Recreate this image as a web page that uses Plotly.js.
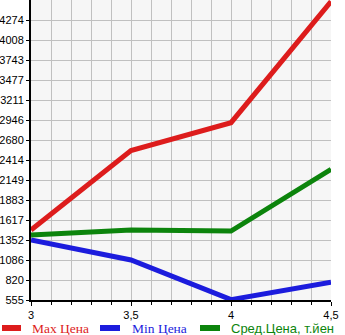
<!DOCTYPE html>
<html>
<head>
<meta charset="utf-8">
<script src="https://cdn.plot.ly/plotly-3.0.1.min.js"></script>
<style>html,body{margin:0;padding:0;background:#fff;}#chart{width:345px;height:335px;}</style>
</head>
<body>
<div id="chart"></div>
<script>
const xValues = [3, 3.5, 4, 4.5];
const maxPrice = [1485, 2540, 2910, 4520];
const minPrice = [1352, 1086, 560, 790];
const avgPrice = [1418, 1485, 1471, 2291];
const seriesNames = ['Max Цена', 'Min Цена', 'Сред.Цена, т.йен'];
const yTickVals = [555, 820, 1086, 1352, 1617, 1883, 2149, 2414, 2680, 2946, 3211, 3477, 3743, 4008, 4274];
const xTickVals = [3, 3.5, 4, 4.5];
const xTickText = ['3', '3,5', '4', '4,5'];

const colors = ['#dd1c1c', '#1c1cdd', '#0c840c'];
const series = [maxPrice, minPrice, avgPrice];
const traces = series.map((s, i) => ({
  x: xValues, y: s, name: seriesNames[i], type: 'scatter', mode: 'lines',
  line: {color: colors[i], width: 5},
}));

// custom legend (pixel positions converted to paper coords; plot area is x 31..331, y 0..300)
const W = 300, H = 300, L = 31;
const px = v => (v - L) / W;
const py = v => (H - v) / H;
const legendItems = [
  {x0: 2, x1: 21, tx: 30, font: 'Liberation Serif, serif', size: 13.5},
  {x0: 100, x1: 120, tx: 130, font: 'Liberation Serif, serif', size: 13.5},
  {x0: 200, x1: 220, tx: 229, font: 'Liberation Sans, sans-serif', size: 13},
];
const legY = 328;
const shapes = legendItems.map((it, i) => ({
  type: 'line', xref: 'paper', yref: 'paper', x0: px(it.x0), x1: px(it.x1), y0: py(legY), y1: py(legY),
  line: {color: colors[i], width: 6},
}));
const annotations = legendItems.map((it, i) => ({
  xref: 'paper', yref: 'paper', x: px(it.tx), y: py(legY), xanchor: 'left', yanchor: 'middle',
  text: seriesNames[i], showarrow: false, font: {family: it.font, size: it.size, color: colors[i]},
}));

const layout = {
  width: 345, height: 335,
  margin: {l: 31, r: 14, t: 0, b: 35},
  paper_bgcolor: '#ffffff', plot_bgcolor: '#f6f6f6',
  showlegend: false,
  shapes: shapes, annotations: annotations,
  xaxis: {range: [3, 4.5], tickvals: xTickVals, ticktext: xTickText, showgrid: true,
    gridcolor: '#c0c0c0', gridwidth: 1, ticks: 'outside', ticklen: 4, tickcolor: '#000',
    showline: true, linecolor: '#000', linewidth: 2, zeroline: false,
    tickfont: {family: 'Liberation Sans, sans-serif', size: 11, color: '#000'},
    minor: {dtick: 0.1, tick0: 3, showgrid: true, gridcolor: '#c0c0c0', gridwidth: 1, ticks: 'outside', ticklen: 3, tickcolor: '#000'}},
  yaxis: {range: [555, 4540], tickvals: yTickVals, showgrid: true, gridcolor: '#c0c0c0', gridwidth: 1,
    ticks: 'outside', ticklen: 3, tickcolor: '#000', showline: true, linecolor: '#000', linewidth: 2,
    zeroline: false, tickfont: {family: 'Liberation Sans, sans-serif', size: 11, color: '#000'}},
};
Plotly.newPlot('chart', traces, layout, {displayModeBar: false, staticPlot: true});
</script>
</body>
</html>
